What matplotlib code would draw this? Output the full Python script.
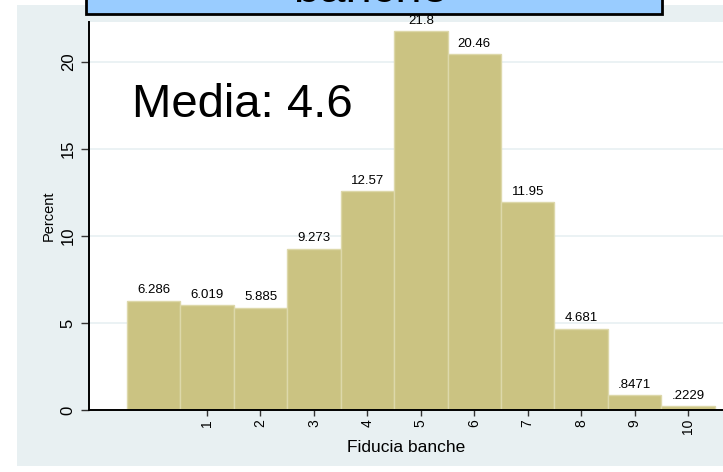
import matplotlib
matplotlib.use("Agg")
import matplotlib.pyplot as plt
from matplotlib.patches import Rectangle

plt.rcParams['font.family'] = ['Liberation Sans', 'DejaVu Sans']

# dati: percentuali per valore di fiducia (0-10)
valori = [0, 1, 2, 3, 4, 5, 6, 7, 8, 9, 10]
percent = [6.286, 6.019, 5.885, 9.273, 12.57, 21.8, 20.46, 11.95, 4.681, 0.8471, 0.2229]
etichette = ["6.286", "6.019", "5.885", "9.273", "12.57", "21.8", "20.46", "11.95", "4.681", ".8471", ".2229"]
xticks = [1, 2, 3, 4, 5, 6, 7, 8, 9, 10]
yticks = [0, 5, 10, 15, 20]

W, H = 723, 472
fig = plt.figure(figsize=(W / 100, H / 100), dpi=100)
fig.patch.set_facecolor('white')

# sfondo grigio-azzurro stile Stata
fig.patches.append(Rectangle((17 / W, 1 - 466 / H), (W - 17) / W, (466 - 5) / H,
                             transform=fig.transFigure, facecolor='#e8f0f2',
                             edgecolor='none', zorder=-5))

ax = fig.add_axes([89 / W, 1 - 410 / H, (W - 89) / W, (410 - 22) / H])
ax.set_facecolor('white')

ax.bar(valori, percent, width=1, color='#cbc382', edgecolor='#ddd8aa', linewidth=1, zorder=2)
for x, y, t in zip(valori, percent, etichette):
    ax.annotate(t, (x, y), xytext=(0, 3), textcoords='offset points',
                ha='center', va='bottom', fontsize=9.5)

ax.set_xlim(-1.209, 10.655)
ax.set_ylim(0, 22.3)
ax.set_xticks(xticks)
ax.set_xticklabels([str(v) for v in xticks], rotation=90, fontsize=10)
ax.set_yticks(yticks)
ax.set_yticklabels([str(v) for v in yticks], rotation=90, va='center', fontsize=12)
ax.tick_params(axis='x', direction='out', length=4.5, width=1, pad=2, color='#333333')
ax.tick_params(axis='y', direction='out', length=5.5, width=1, pad=4, color='#333333')
ax.grid(axis='y', color='#e8f0f2', linewidth=1.2, zorder=0)
ax.set_axisbelow(True)

for s in ['top', 'right']:
    ax.spines[s].set_visible(False)
ax.spines['left'].set_linewidth(1.4)
ax.spines['bottom'].set_linewidth(1.4)

ax.set_xlabel("Fiducia banche", fontsize=12.5, labelpad=4)
ax.set_ylabel("Percent", fontsize=10.5, labelpad=4)

fig.text(132 / W, 1 - 117 / H, "Media: 4.6", fontsize=34, ha='left', va='baseline')

# riquadro del titolo (tagliato in alto)
fig.patches.append(Rectangle((86 / W, 1 - 14 / H), (662 - 86) / W, 30 / H,
                             transform=fig.transFigure, facecolor='#99ccff',
                             edgecolor='black', linewidth=2, zorder=5))
fig.text(370 / W, 1 - 2 / H, "banche", fontsize=34, ha='center', va='baseline', zorder=6)

fig.savefig("out.png", dpi=100)
